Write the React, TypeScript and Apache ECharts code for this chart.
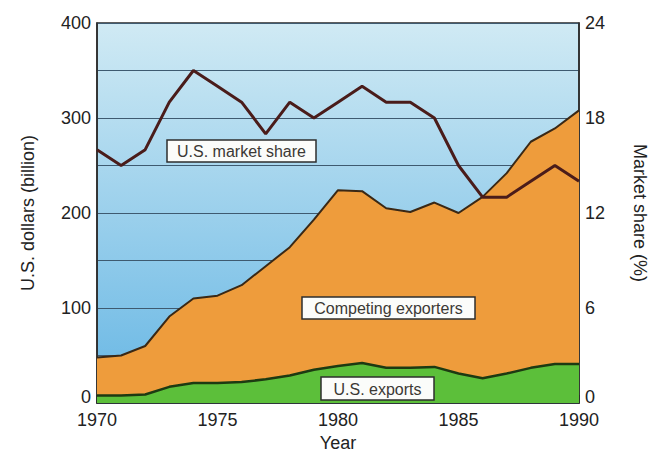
import React, { useEffect, useRef } from "react";
import * as echarts from "echarts";

const years = [1970, 1971, 1972, 1973, 1974, 1975, 1976, 1977, 1978, 1979, 1980, 1981, 1982, 1983, 1984, 1985, 1986, 1987, 1988, 1989, 1990];
// Top of the orange area (total world exports, US$ billion)
const totalExports = [48, 50, 60, 91, 110, 113, 124, 144, 164, 193, 224, 223, 205, 201, 211, 200, 217, 242, 275, 289, 308];
// U.S. exports, US$ billion
const usExports = [8, 8, 9, 17, 21, 21, 22, 25, 29, 35, 39, 42, 37, 37, 38, 31, 26, 31, 37, 41, 41];
// U.S. market share, %
const marketShare = [16, 15, 16, 19, 21, 20, 19, 17, 19, 18, 19, 20, 19, 19, 18, 15, 13, 13, 14, 15, 14];

const leftTicks = [0, 100, 200, 300, 400];
const rightTicks = [0, 6, 12, 18, 24];

const FONT = "'Liberation Sans', Arial, Helvetica, sans-serif";

export default function App() {
  const ref = useRef<HTMLDivElement>(null);
  useEffect(() => {
    if (!ref.current) return;
    const chart = echarts.init(ref.current, undefined, { renderer: "svg" });
    const pairs = (vals: number[]) => years.map((y, i) => [y, vals[i]]);
    const labelBox = (x: number, y: number, w: number, h: number, text: string) => ({
      type: "group",
      children: [
        {
          type: "rect",
          shape: { x, y, width: w, height: h },
          style: { fill: "#fbfcfa", stroke: "#2e2e2e", lineWidth: 1.5 },
          z: 100,
        },
        {
          type: "text",
          x: x + w / 2,
          y: y + h / 2 + 0.5,
          style: {
            text,
            fill: "#3b3935",
            font: `16px ${FONT}`,
            align: "center",
            verticalAlign: "middle",
          },
          z: 101,
        },
      ],
    });
    const yLabel = (v: number) => (v === 0 ? "{z|0}" : String(v));
    const yRich = { z: { fontSize: 18, color: "#222", fontFamily: FONT, padding: [0, 0, 12, 0] } };
    chart.setOption({
      animation: false,
      textStyle: { fontFamily: FONT },
      grid: {
        left: 97,
        right: 77,
        top: 23,
        bottom: 49,
        show: true,
        outerBoundsMode: "none",
        containLabel: false,
        borderColor: "#2a2a2a",
        borderWidth: 1.5,
        backgroundColor: new echarts.graphic.LinearGradient(0, 0, 0, 1, [
          { offset: 0, color: "#d0eaf4" },
          { offset: 1, color: "#66b6e4" },
        ]),
      },
      xAxis: {
        type: "value",
        min: 1970,
        max: 1990,
        interval: 5,
        name: "Year",
        nameLocation: "middle",
        nameGap: 30,
        nameTextStyle: { fontSize: 18, color: "#222", fontFamily: FONT },
        axisLine: { show: true, lineStyle: { color: "#2a2a2a", width: 1.5 } },
        axisTick: { show: true, inside: true, length: 8, lineStyle: { color: "#2a2a2a", width: 1.5 } },
        axisLabel: { fontSize: 18, color: "#222", margin: 8, fontFamily: FONT, formatter: (v: number) => String(v) },
        splitLine: { show: false },
      },
      yAxis: [
        {
          type: "value",
          min: leftTicks[0],
          max: leftTicks[leftTicks.length - 1],
          interval: 100,
          name: "U.S. dollars (billion)",
          nameLocation: "middle",
          nameGap: 60,
          nameTextStyle: { fontSize: 18, color: "#222", fontFamily: FONT },
          axisLine: { show: true, lineStyle: { color: "#2a2a2a", width: 1.5 } },
          axisTick: { show: false },
          axisLabel: { fontSize: 18, color: "#222", margin: 6, fontFamily: FONT, formatter: yLabel, rich: yRich },
          splitLine: { show: true, lineStyle: { color: "#3e5a70", width: 1 } },
          minorTick: { show: false, splitNumber: 2 },
          minorSplitLine: { show: true, lineStyle: { color: "#3e5a70", width: 1 } },
        },
        {
          type: "value",
          min: rightTicks[0],
          max: rightTicks[rightTicks.length - 1],
          interval: 6,
          position: "right",
          name: "Market share (%)",
          nameLocation: "middle",
          nameRotate: -90,
          nameGap: 52,
          nameTextStyle: { fontSize: 18, color: "#222", fontFamily: FONT },
          axisLine: { show: true, lineStyle: { color: "#2a2a2a", width: 1.5 } },
          axisTick: { show: false },
          axisLabel: { fontSize: 18, color: "#222", margin: 6, fontFamily: FONT, formatter: yLabel, rich: yRich },
          splitLine: { show: false },
        },
      ],
      series: [
        {
          name: "Competing exporters",
          type: "line",
          yAxisIndex: 0,
          data: pairs(totalExports),
          symbol: "none",
          lineStyle: { color: "#3a2815", width: 2 },
          areaStyle: { color: "#ee9c3c", opacity: 1 },
          z: 2,
        },
        {
          name: "U.S. exports",
          type: "line",
          yAxisIndex: 0,
          data: pairs(usExports),
          symbol: "none",
          lineStyle: { color: "#1d3a12", width: 2.5 },
          areaStyle: { color: "#5cbf3a", opacity: 1 },
          z: 3,
        },
        {
          name: "U.S. market share",
          type: "line",
          yAxisIndex: 1,
          data: pairs(marketShare),
          symbol: "none",
          lineStyle: { color: "#4a1c1a", width: 3 },
          z: 4,
        },
      ],
      graphic: [
        labelBox(167, 140, 149, 22, "U.S. market share"),
        labelBox(302, 297, 173, 22, "Competing exporters"),
        labelBox(321, 377, 113, 23, "U.S. exports"),
      ],
    });
    return () => chart.dispose();
  }, []);
  return (
    <div
      ref={ref}
      style={{ position: "fixed", left: 0, top: 0, width: 656, height: 452, background: "#ffffff" }}
    />
  );
}
